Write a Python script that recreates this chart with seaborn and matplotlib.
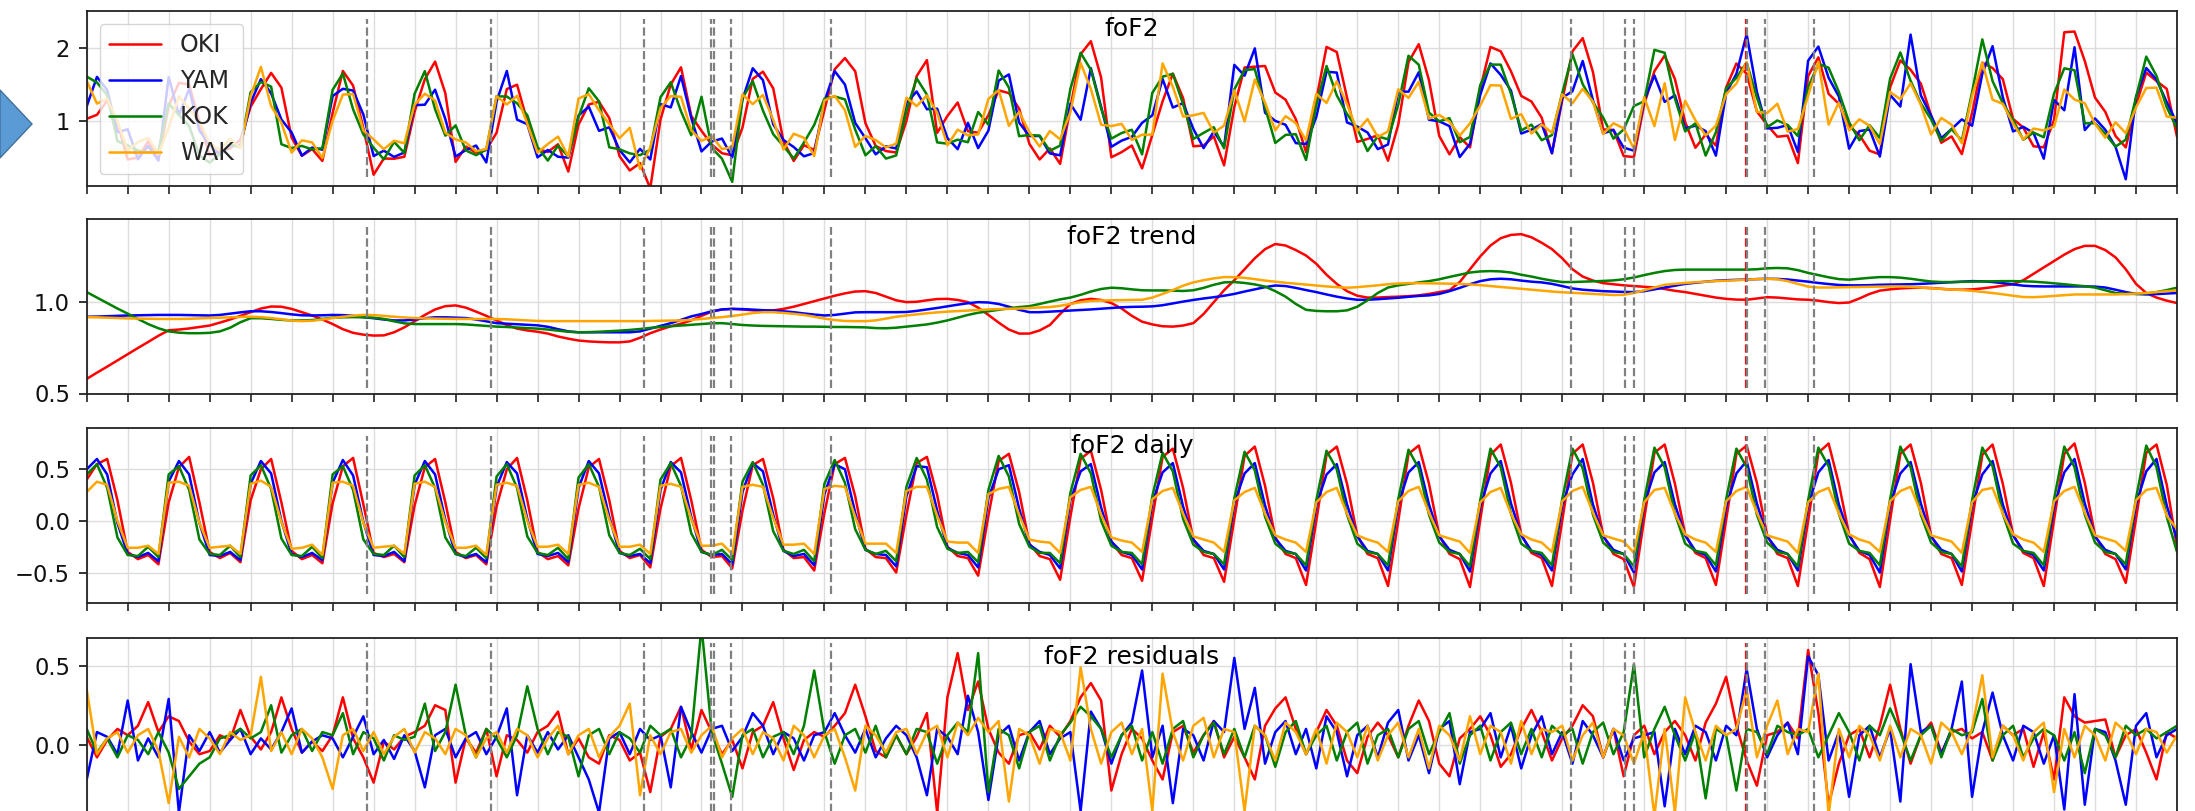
import numpy as np
import matplotlib
matplotlib.use("Agg")
import matplotlib.pyplot as plt
from matplotlib.patches import Polygon
import seaborn as sns

# ---------------- data ----------------
STATIONS = ["OKI", "YAM", "KOK", "WAK"]
COLORS = ["red", "blue", "green", "orange"]
PANEL_TITLES = ["foF2", "foF2 trend", "foF2 daily", "foF2 residuals"]
SAMPLES_PER_DAY = 8          # 3-hourly samples, time axis in days
EVENT_DAYS = [3.42, 4.93, 6.80, 7.61, 7.65, 7.86, 9.08,
              18.11, 18.76, 18.88, 20.26, 20.48, 21.07]
MAIN_EVENT_DAY = 20.24
X_END_DAYS = 25.5

# trend component (x1000), one row per day
OKI_TREND = [
    580, 614, 647, 681, 715, 749, 782, 816,
    846, 850, 856, 864, 872, 888, 905, 925,
    945, 965, 976, 975, 963, 945, 927, 905,
    880, 852, 832, 822, 817, 818, 835, 862,
    895, 930, 960, 978, 982, 970, 948, 925,
    900, 875, 855, 845, 838, 828, 812, 800,
    790, 785, 782, 780, 780, 785, 805, 830,
    850, 868, 882, 900, 925, 948, 960, 963,
    960, 955, 952, 955, 963, 975, 990, 1005,
    1020, 1035, 1048, 1058, 1060, 1050, 1030, 1010,
    1000, 1002, 1010, 1017, 1018, 1012, 1000, 970,
    930, 888, 850, 828, 828, 845, 875, 935,
    990, 1010, 1018, 1012, 995, 965, 925, 893,
    878, 868, 866, 872, 885, 935, 1000, 1065,
    1120, 1180, 1240, 1290, 1318, 1310, 1285, 1255,
    1210, 1150, 1100, 1060, 1035, 1025, 1025, 1028,
    1030, 1033, 1037, 1045, 1055, 1065, 1110, 1180,
    1250, 1310, 1350, 1368, 1372, 1355, 1325, 1290,
    1240, 1180, 1140, 1118, 1104, 1098, 1092, 1088,
    1084, 1080, 1072, 1062, 1055, 1045, 1035, 1025,
    1018, 1014, 1013, 1020, 1027, 1025, 1020, 1015,
    1013, 1008, 1000, 995, 998, 1020, 1045, 1063,
    1070, 1075, 1078, 1079, 1077, 1073, 1069, 1068,
    1070, 1075, 1082, 1090, 1098, 1120, 1155, 1190,
    1225, 1260, 1290, 1308, 1308, 1285, 1245, 1180,
    1100, 1050, 1025, 1008, 995,
]
YAM_TREND = [
    920, 921, 923, 925, 927, 928, 929, 930,
    930, 930, 929, 928, 927, 930, 937, 944,
    950, 950, 946, 940, 933, 928, 927, 928,
    930, 929, 925, 918, 912, 905, 900, 900,
    905, 912, 917, 917, 915, 913, 905, 895,
    885, 882, 879, 876, 873, 865, 852, 840,
    835, 835, 835, 835, 835, 835, 840, 855,
    870, 885, 903, 922, 935, 950, 960, 963,
    962, 959, 956, 954, 950, 945, 938, 932,
    927, 930, 937, 944, 945, 945, 945, 945,
    946, 952, 960, 968, 977, 986, 994, 1000,
    998, 990, 975, 958, 945, 945, 948, 951,
    954, 957, 960, 964, 968, 972, 974, 975,
    977, 983, 993, 1003, 1012, 1020, 1027, 1035,
    1045, 1058, 1070, 1082, 1091, 1088, 1078, 1066,
    1055, 1042, 1030, 1020, 1013, 1013, 1016, 1020,
    1024, 1029, 1034, 1037, 1045, 1060, 1078, 1098,
    1115, 1125, 1128, 1125, 1118, 1112, 1108, 1100,
    1088, 1075, 1068, 1064, 1060, 1058, 1056, 1055,
    1060, 1070, 1080, 1090, 1100, 1106, 1112, 1117,
    1120, 1122, 1124, 1126, 1128, 1127, 1124, 1118,
    1112, 1105, 1099, 1094, 1092, 1092, 1093, 1095,
    1096, 1097, 1098, 1100, 1103, 1106, 1109, 1112,
    1115, 1114, 1110, 1104, 1097, 1090, 1087, 1086,
    1086, 1086, 1086, 1086, 1085, 1080, 1068, 1055,
    1045, 1042, 1044, 1047, 1050,
]
KOK_TREND = [
    1055, 1025, 995, 965, 937, 908, 880, 857,
    840, 833, 830, 830, 832, 840, 860, 890,
    912, 912, 908, 903, 900, 900, 902, 908,
    915, 917, 918, 917, 915, 908, 895, 884,
    880, 880, 880, 880, 880, 878, 874, 870,
    866, 864, 861, 858, 855, 850, 844, 838,
    835, 836, 838, 841, 844, 848, 853, 859,
    864, 868, 872, 876, 880, 884, 885, 880,
    875, 872, 870, 869, 868, 867, 866, 866,
    865, 864, 864, 863, 862, 858, 857, 860,
    866, 872, 878, 888, 900, 915, 930, 942,
    950, 958, 966, 973, 978, 990, 1003, 1015,
    1025, 1040, 1058, 1072, 1079, 1076, 1070, 1065,
    1064, 1064, 1063, 1061, 1065, 1078, 1095, 1108,
    1110, 1105, 1097, 1085, 1060, 1030, 990, 958,
    952, 950, 950, 955, 975, 1010, 1050, 1080,
    1092, 1100, 1108, 1115, 1125, 1138, 1150, 1162,
    1168, 1170, 1168, 1162, 1150, 1140, 1128, 1118,
    1110, 1110, 1112, 1114, 1116, 1119, 1125, 1135,
    1148, 1160, 1170, 1176, 1178, 1178, 1178, 1178,
    1178, 1178, 1178, 1180, 1185, 1187, 1185, 1175,
    1160, 1148, 1136, 1126, 1123, 1128, 1133, 1137,
    1137, 1134, 1128, 1120, 1113, 1110, 1110, 1111,
    1112, 1113, 1114, 1115, 1115, 1114, 1112, 1108,
    1103, 1098, 1092, 1087, 1080, 1065, 1050, 1045,
    1045, 1048, 1055, 1066, 1079,
]
WAK_TREND = [
    918, 917, 915, 913, 911, 910, 909, 908,
    908, 908, 909, 911, 913, 915, 917, 919,
    920, 918, 913, 906, 899, 896, 898, 905,
    913, 920, 926, 930, 929, 925, 920, 916,
    913, 911, 910, 909, 908, 908, 908, 908,
    908, 906, 903, 900, 897, 896, 896, 896,
    896, 896, 896, 896, 896, 896, 896, 897,
    898, 899, 900, 903, 908, 913, 918, 924,
    932, 940, 945, 945, 941, 936, 930, 920,
    910, 902, 897, 896, 896, 900, 910, 920,
    927, 933, 939, 944, 948, 951, 954, 957,
    960, 962, 963, 965, 968, 971, 973, 980,
    990, 1000, 1007, 1009, 1010, 1011, 1012, 1013,
    1025, 1045, 1066, 1090, 1108, 1120, 1130, 1137,
    1137, 1133, 1126, 1118, 1112, 1106, 1101, 1096,
    1091, 1086, 1082, 1079, 1082, 1087, 1092, 1098,
    1102, 1104, 1104, 1103, 1102, 1101, 1100, 1097,
    1093, 1088, 1083, 1078, 1073, 1068, 1063, 1058,
    1054, 1051, 1048, 1045, 1042, 1039, 1040, 1050,
    1065, 1080, 1095, 1100, 1105, 1109, 1112, 1115,
    1117, 1120, 1123, 1126, 1128, 1125, 1115, 1100,
    1085, 1080, 1080, 1081, 1082, 1083, 1084, 1085,
    1086, 1086, 1084, 1080, 1076, 1072, 1069, 1066,
    1062, 1056, 1050, 1043, 1035, 1028, 1027, 1030,
    1034, 1038, 1042, 1042, 1042, 1042, 1042, 1044,
    1047, 1050, 1055, 1060, 1064,
]

# daily component (x100)
OKI_DAILY = [
    40, 55, 60, 20, -30, -37, -33, -42,
    18, 52, 62, 18, -30, -36, -31, -40,
    20, 50, 60, 18, -29, -37, -33, -41,
    17, 53, 61, 16, -31, -35, -32, -40,
    15, 52, 60, 18, -30, -36, -33, -42,
    14, 50, 61, 20, -30, -37, -34, -43,
    12, 52, 60, 20, -29, -36, -33, -45,
    12, 53, 61, 20, -28, -35, -34, -46,
    10, 54, 60, 22, -28, -36, -35, -48,
    8, 55, 61, 24, -27, -35, -36, -50,
    6, 56, 62, 25, -25, -34, -36, -53,
    5, 58, 65, 28, -22, -34, -37, -57,
    4, 60, 68, 30, -20, -33, -36, -58,
    3, 62, 70, 32, -18, -33, -36, -59,
    2, 63, 72, 34, -16, -32, -36, -62,
    0, 64, 72, 36, -14, -32, -36, -63,
    0, 65, 73, 36, -14, -32, -37, -64,
    1, 64, 74, 37, -13, -31, -36, -63,
    0, 65, 74, 37, -14, -32, -37, -64,
    2, 66, 74, 36, -13, -31, -36, -62,
    1, 65, 73, 37, -14, -32, -36, -63,
    0, 66, 75, 36, -13, -31, -37, -64,
    1, 65, 74, 37, -14, -32, -36, -62,
    0, 64, 74, 36, -13, -31, -36, -63,
    1, 65, 75, 37, -14, -32, -37, -60,
    2, 66, 74, 35, -25,
]
YAM_DAILY = [
    50, 60, 45, -2, -32, -35, -31, -39,
    38, 58, 45, -2, -33, -34, -30, -38,
    36, 58, 46, 0, -32, -35, -31, -38,
    37, 59, 44, -1, -33, -34, -30, -39,
    35, 58, 45, 1, -32, -35, -32, -40,
    33, 57, 46, 2, -32, -34, -31, -40,
    32, 58, 46, 4, -31, -34, -32, -41,
    30, 57, 47, 4, -30, -33, -32, -42,
    28, 56, 48, 6, -29, -34, -32, -43,
    26, 55, 50, 8, -28, -32, -33, -44,
    24, 53, 52, 10, -26, -31, -33, -45,
    22, 50, 54, 12, -23, -30, -33, -46,
    20, 48, 55, 13, -20, -30, -33, -47,
    18, 47, 56, 14, -18, -29, -32, -47,
    17, 46, 56, 15, -17, -29, -32, -48,
    15, 45, 55, 16, -15, -29, -32, -48,
    16, 47, 57, 16, -15, -28, -32, -49,
    14, 46, 58, 17, -14, -29, -33, -48,
    15, 45, 60, 16, -15, -28, -32, -50,
    16, 47, 57, 16, -14, -29, -33, -49,
    14, 46, 58, 17, -15, -28, -32, -48,
    15, 47, 59, 16, -14, -29, -33, -50,
    16, 46, 57, 17, -15, -28, -32, -49,
    15, 45, 58, 16, -14, -29, -33, -48,
    14, 47, 60, 17, -15, -28, -32, -47,
    16, 48, 60, 15, -18,
]
KOK_DAILY = [
    45, 55, 32, -16, -33, -34, -25, -35,
    45, 53, 30, -18, -32, -33, -24, -35,
    44, 54, 31, -17, -33, -34, -25, -36,
    45, 53, 30, -18, -32, -33, -24, -35,
    44, 54, 32, -16, -32, -34, -26, -36,
    43, 55, 32, -15, -31, -33, -26, -37,
    42, 55, 33, -14, -31, -33, -27, -37,
    40, 56, 34, -12, -30, -33, -28, -38,
    38, 57, 35, -10, -29, -32, -28, -39,
    36, 59, 37, -8, -28, -32, -29, -39,
    33, 61, 40, -6, -27, -31, -30, -40,
    30, 63, 43, -3, -25, -31, -31, -41,
    27, 65, 46, 0, -24, -30, -31, -42,
    24, 66, 48, 2, -23, -30, -32, -42,
    22, 67, 49, 4, -22, -30, -32, -43,
    20, 68, 50, 6, -22, -30, -32, -43,
    21, 69, 51, 6, -21, -30, -32, -44,
    20, 70, 52, 7, -22, -29, -31, -43,
    21, 70, 51, 6, -21, -30, -32, -44,
    20, 71, 52, 7, -22, -29, -31, -43,
    21, 70, 52, 6, -21, -30, -32, -44,
    20, 71, 53, 7, -22, -29, -31, -43,
    21, 72, 52, 6, -21, -30, -32, -44,
    20, 71, 53, 7, -22, -29, -31, -43,
    21, 72, 52, 6, -21, -30, -32, -42,
    22, 73, 52, 4, -30,
]
WAK_DAILY = [
    28, 38, 35, 0, -26, -26, -24, -32,
    37, 38, 34, -2, -26, -25, -24, -32,
    36, 39, 33, -1, -27, -26, -23, -33,
    37, 38, 34, -2, -26, -25, -24, -32,
    36, 38, 33, -1, -26, -26, -24, -33,
    35, 37, 34, 0, -25, -25, -23, -32,
    35, 37, 33, 1, -25, -25, -23, -32,
    34, 36, 33, 2, -24, -24, -22, -32,
    33, 35, 33, 3, -23, -23, -22, -32,
    31, 34, 33, 4, -22, -22, -22, -31,
    29, 33, 33, 5, -20, -21, -21, -31,
    26, 31, 33, 6, -18, -20, -21, -31,
    23, 30, 33, 6, -16, -19, -21, -30,
    21, 29, 32, 7, -15, -18, -21, -30,
    20, 28, 32, 7, -14, -18, -21, -30,
    18, 28, 32, 7, -14, -18, -21, -30,
    19, 29, 33, 8, -14, -17, -20, -31,
    18, 28, 32, 7, -13, -18, -21, -30,
    19, 29, 33, 8, -14, -17, -20, -31,
    18, 30, 32, 7, -13, -18, -21, -30,
    19, 29, 33, 8, -14, -17, -20, -31,
    18, 28, 32, 7, -13, -18, -21, -30,
    19, 29, 33, 8, -14, -17, -20, -31,
    18, 30, 32, 7, -13, -18, -21, -30,
    19, 29, 33, 8, -14, -17, -20, -29,
    20, 30, 32, 5, -8,
]

# residual component (x100)
OKI_RESID = [
    5, -8, 3, 10, 6, 12, 27, 8,
    18, 15, 2, -6, -4, 6, 3, 22,
    5, -3, 8, 30, 10, -5, 2, -4,
    6, 30, 4, -8, -24, 2, -3, 5,
    8, 12, 25, 22, -24, 4, -5, 10,
    -20, 6, 3, -5, 8, 12, 21, -6,
    4, -8, -12, 6, 3, -10, -5, -30,
    5, 10, 24, -3, 22, 8, -6, 3,
    -15, 8, 12, 27, 4, -16, 3, 8,
    5, 12, 20, 38, 18, -4, -8, 6,
    -6, 5, 20, -43, 30, 58, 22, 40,
    10, -5, -12, 6, 8, -3, 12, 5,
    15, 30, 39, 28, -29, -6, 10, 4,
    -10, -22, 8, 12, -5, 6, 15, -8,
    5, -8, -22, 12, 23, 30, 10, -6,
    8, 22, 12, -10, -18, 5, 14, 6,
    -8, 12, 28, 15, -12, -20, 4, 10,
    18, 6, -14, -6, 10, 22, 8, -10,
    4, 12, 25, 18, -8, 10, -20, 6,
    12, -6, 8, 15, 6, -10, 14, 26,
    43, 12, -10, -26, 6, 8, 14, 4,
    60, 20, -38, -12, 6, 10, -8, 12,
    38, 10, -12, 6, 14, -5, 8, 10,
    4, 8, -10, 12, 6, 10, -14, 8,
    -22, 30, 18, 14, 15, 16, -8, 6,
    10, -5, -22, 8, 4,
]
YAM_RESID = [
    -22, 8, 5, -6, 28, -10, 4, -8,
    29, -43, 6, -4, 8, -5, 3, 10,
    -6, 4, -3, 8, 23, -5, 2, 6,
    4, -8, 5, 18, -6, 3, -9, 6,
    -4, -27, 6, 10, -8, 4, 8, -6,
    5, 23, -32, 6, -5, 8, -3, 6,
    -8, -22, -43, 4, 8, -6, 10, 3,
    6, -27, 24, 8, -5, 10, 12, -4,
    5, 20, 12, -6, 8, 4, -10, 6,
    8, 20, 6, -5, 10, -8, 4, 12,
    6, -8, -32, 10, 5, -6, 31, 8,
    -35, 6, 12, -10, 8, 15, -6, 4,
    8, -42, 21, 10, -12, 6, 14, 47,
    -8, 12, -37, 10, 6, -10, 15, 8,
    55, 10, 36, -12, 8, 15, -6, 10,
    -15, 18, 8, -20, 6, 12, -8, 14,
    22, -10, 6, -18, 10, 15, -25, 8,
    10, 20, -8, 12, -15, 6, 18, -6,
    8, -12, 15, 6, -8, 10, -10, 4,
    6, 8, -39, 10, -6, 12, 8, -10,
    12, 6, 48, 10, -8, 6, 14, -6,
    56, 44, -10, 8, -33, 6, 12, -8,
    10, -36, 51, 8, 12, -6, 10, 40,
    -33, 8, 33, 6, -10, 12, 8, -12,
    6, -41, 32, -38, 10, 8, -10, -38,
    12, 20, -8, 6, 10,
]
KOK_RESID = [
    10, -5, 4, -8, 6, 3, -6, 8,
    -5, -28, -20, -12, -8, 4, 6, 10,
    4, 8, 25, -5, 6, 10, -4, 8,
    6, 20, -6, 8, 4, -10, 6, 3,
    5, 26, -4, 8, 38, 6, -8, 10,
    4, -8, 6, 37, 10, -6, 8, 5,
    -20, 6, 10, -6, 8, 4, -5, 12,
    6, 10, -8, 5, 75, 8, -12, -33,
    6, 10, -8, 5, 8, -6, 12, 47,
    8, -12, 6, 10, -5, 12, -8, 6,
    -6, 10, 8, -12, 6, 14, 8, 58,
    -30, 10, 6, -15, 8, 12, -10, 6,
    14, 24, 18, 10, -8, 6, 12, -10,
    8, -12, 10, 15, -8, 6, 14, -6,
    10, -8, 12, 6, -14, 8, 15, -6,
    6, 12, -10, 8, 14, -12, 6, 10,
    -8, 10, 15, -6, 8, 20, -12, 6,
    12, -10, 8, 14, -6, 10, -8, 12,
    6, 10, -12, 8, 14, -6, 8, 51,
    -8, 10, 24, 6, -10, 8, -34, 10,
    6, -29, 10, 8, -6, 12, 8, 6,
    10, -8, 6, 20, 8, -10, 12, 6,
    23, 8, -10, 6, 12, -8, 10, 6,
    8, 29, -10, 6, 12, -8, 4, 10,
    6, -10, 8, -18, 10, 6, -8, 12,
    6, 10, 4, 8, 12,
]
WAK_RESID = [
    35, -6, 4, 8, -5, 6, 10, -4,
    -37, 5, -8, 10, 4, -6, 8, 3,
    6, 43, -4, 8, -6, 10, 4, -8,
    -28, 6, 10, -4, 8, -6, 5, 10,
    -5, 8, 4, -6, 10, 6, -8, 4,
    8, -5, 10, 6, -8, 4, 12, -6,
    6, 10, -8, 5, 12, 26, -32, 6,
    -6, 8, 10, -5, 6, 12, -8, 4,
    10, -6, 8, 4, -10, 12, 6, -8,
    6, 10, -8, -29, 12, 6, -5, 8,
    10, -6, 8, 12, -8, 14, 6, 17,
    8, 15, -36, 10, 6, -12, 10, 8,
    -10, 49, 10, -12, 8, 14, -6, 10,
    -42, 45, 8, -10, 12, 17, -8, 10,
    8, -42, 12, 6, -10, 14, 8, -6,
    10, -12, 14, 8, -8, 12, -10, 6,
    14, -8, 10, -15, 12, 6, -10, 18,
    -6, 12, 8, -12, 15, -6, 10, 8,
    12, -10, 6, 14, -8, 10, 6, -12,
    8, -45, 10, -43, 30, 8, -10, 12,
    6, 10, 35, -8, 12, 28, -6, 10,
    8, 45, -45, 10, -8, 12, 6, -10,
    12, -8, 10, 6, -12, 14, 8, -6,
    10, 44, -8, 12, 6, -10, 8, 14,
    -30, 10, -8, 12, 6, -10, 14, 8,
    -6, 10, 8, -5, 6,
]

TRENDS = [OKI_TREND, YAM_TREND, KOK_TREND, WAK_TREND]
DAILIES = [OKI_DAILY, YAM_DAILY, KOK_DAILY, WAK_DAILY]
RESIDS = [OKI_RESID, YAM_RESID, KOK_RESID, WAK_RESID]

n = min(len(a) for a in TRENDS + DAILIES + RESIDS)
t = np.arange(n) / SAMPLES_PER_DAY
trend = [np.array(a[:n]) / 1000.0 for a in TRENDS]
daily = [np.array(a[:n]) / 100.0 for a in DAILIES]
resid = [np.array(a[:n]) / 100.0 for a in RESIDS]
# the observed series is the sum of its decomposition components
fof2 = [tr + da + re for tr, da, re in zip(trend, daily, resid)]
PANELS = [fof2, trend, daily, resid]

YLIMS = [(0.12, 2.50), (0.5, 1.455), (-0.79, 0.90), (-0.43, 0.675)]
YTICKS = [[1, 2], [0.5, 1.0], [-0.5, 0.0, 0.5], [0.0, 0.5]]
VLINE_SPAN = [(0.048, 0.954), (0.034, 0.954), (0.046, 0.956), (0.0, 0.971)]

# ---------------- style ----------------
sns.set_theme(style="ticks")
plt.rcParams.update({
    "font.family": ["DejaVu Sans"],
    "axes.edgecolor": "#222222",
    "axes.linewidth": 1.3,
    "xtick.major.size": 5.5,
    "ytick.major.size": 6,
    "xtick.major.width": 1.2,
    "ytick.major.width": 1.2,
    "ytick.major.pad": 6,
    "xtick.color": "#222222",
    "ytick.color": "#111111",
})

W_PX, H_PX = 2195, 811
fig = plt.figure(figsize=(W_PX / 100, H_PX / 100), dpi=100)
fig.patch.set_facecolor("white")

left, width = 86.7 / W_PX, (2177 - 86.7) / W_PX
tops_px = [11, 219, 428, 637]
height_px = 174.5
axes = []
for top in tops_px:
    bottom = 1 - (top + height_px) / H_PX
    if top == tops_px[-1]:
        bottom = -0.002
    axes.append(fig.add_axes([left, bottom, width, height_px / H_PX]))

xticks = np.arange(0, X_END_DAYS + 1e-9, 0.5)

for k, ax in enumerate(axes):
    ax.set_axisbelow(True)
    for name, color, series in zip(STATIONS, COLORS, PANELS[k]):
        sns.lineplot(x=t, y=series, color=color, lw=1.8, ax=ax,
                     label=name, estimator=None, sort=False)
    if ax.get_legend() is not None:
        ax.get_legend().remove()
    y0, y1 = VLINE_SPAN[k]
    ax.axvline(MAIN_EVENT_DAY, ymin=y0, ymax=y1, color="red",
               ls="--", lw=1.6, zorder=5)
    for d in EVENT_DAYS:
        ax.axvline(d, ymin=y0, ymax=y1, color="gray", ls="--",
                   lw=1.6, zorder=5)
    ax.set_xlim(0, X_END_DAYS)
    ax.set_ylim(*YLIMS[k])
    ax.set_xticks(xticks)
    ax.set_yticks(YTICKS[k])
    ax.tick_params(axis="x", labelbottom=False, direction="out")
    ax.tick_params(axis="y", labelsize=16.3, direction="out")
    ax.grid(True, color="#dcdcdc", lw=1.0)
    ax.set_xlabel("")
    ax.set_ylabel("")
    for s in ax.spines.values():
        s.set_visible(True)
    ax.text(0.5, 1 - 25.5 / height_px, PANEL_TITLES[k],
            transform=ax.transAxes, ha="center", va="baseline",
            fontsize=18, color="black", zorder=6)

handles, labels = axes[0].get_legend_handles_labels()
leg = axes[0].legend(handles[:4], labels[:4], loc="upper left",
                     fontsize=17, framealpha=0.8, borderaxespad=0.55,
                     handlelength=2.2, labelspacing=0.5,
                     edgecolor="#cccccc", fancybox=True)
leg.set_zorder(10)

# slide decoration (arrow tip) at the left edge
pts = [(0, 90), (32, 124), (0, 158)]
poly = Polygon([(x / W_PX, 1 - y / H_PX) for x, y in pts], closed=True,
               transform=fig.transFigure, facecolor="#5b9bd5",
               edgecolor="#41719c", lw=1.0)
fig.patches.append(poly)

fig.savefig("out.png", dpi=100, facecolor="white")
